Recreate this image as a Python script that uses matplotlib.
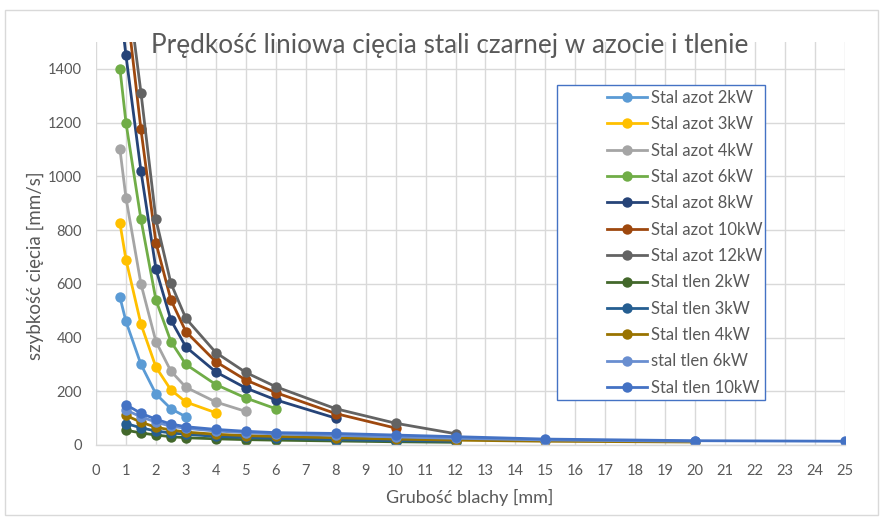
"""
Prędkość liniowa cięcia stali czarnej w azocie i tlenie - odtworzenie wykresu z Excela.
"""
from __future__ import annotations

import matplotlib

matplotlib.use("Agg")
import matplotlib.pyplot as plt
from matplotlib.patches import Rectangle

plt.rcParams["font.family"] = ["Lato", "DejaVu Sans"]

TITLE = "Prędkość liniowa cięcia stali czarnej w azocie i tlenie"
X_LABEL = "Grubość blachy [mm]"
Y_LABEL = "szybkość cięcia [mm/s]"

# --- azot (N2) ---
x_n2_2kw = [0.8, 1, 1.5, 2, 2.5, 3]
y_n2_2kw = [550, 460, 300, 190, 135, 105]
x_n2_3kw = [0.8, 1, 1.5, 2, 2.5, 3, 4]
y_n2_3kw = [825, 690, 450, 290, 205, 160, 120]
x_n2_4kw = [0.8, 1, 1.5, 2, 2.5, 3, 4, 5]
y_n2_4kw = [1100, 920, 600, 385, 275, 215, 160, 125]
x_n2_6kw = [0.8, 1, 1.5, 2, 2.5, 3, 4, 5, 6]
y_n2_6kw = [1400, 1200, 840, 540, 385, 300, 225, 175, 135]
x_n2_8kw = [0.8, 1, 1.5, 2, 2.5, 3, 4, 5, 6, 8]
y_n2_8kw = [1640, 1450, 1020, 655, 465, 365, 272, 212, 168, 100]
x_n2_10kw = [1, 1.5, 2, 2.5, 3, 4, 5, 6, 8, 10]
y_n2_10kw = [1660, 1175, 753, 540, 422, 310, 242, 195, 117, 63]
x_n2_12kw = [1, 1.5, 2, 2.5, 3, 4, 5, 6, 8, 10, 12]
y_n2_12kw = [1750, 1312, 840, 602, 471, 344, 270, 217, 135, 81, 42]

# --- tlen (O2) ---
x_o2_2kw = [1, 1.5, 2, 2.5, 3, 4, 5, 6, 8, 10, 12]
y_o2_2kw = [55, 45, 37, 31, 27, 23, 20, 18, 15, 12, 10]
x_o2_3kw = [1, 1.5, 2, 2.5, 3, 4, 5, 6, 8, 10, 12]
y_o2_3kw = [80, 64, 52, 45, 40, 32, 28, 25, 20, 16, 14]
x_o2_4kw = [1, 1.5, 2, 2.5, 3, 4, 5, 6, 8, 10, 12, 15, 20]
y_o2_4kw = [110, 85, 66, 56, 48, 40, 35, 32, 27, 22, 18, 14, 11]
x_o2_6kw = [1, 1.5, 2, 2.5, 3, 4, 5, 6, 8, 10, 12, 15, 20]
y_o2_6kw = [130, 105, 85, 70, 62, 52, 46, 41, 36, 30, 25, 19, 14]
x_o2_10kw = [1, 1.5, 2, 2.5, 3, 4, 5, 6, 8, 10, 12, 15, 20, 25]
y_o2_10kw = [150, 118, 96, 78, 68, 58, 51, 46, 43, 37, 31, 22, 16, 14]

SERIES = [
    ("Stal azot 2kW", x_n2_2kw, y_n2_2kw, "#5B9BD5"),
    ("Stal azot 3kW", x_n2_3kw, y_n2_3kw, "#FFC000"),
    ("Stal azot 4kW", x_n2_4kw, y_n2_4kw, "#A5A5A5"),
    ("Stal azot 6kW", x_n2_6kw, y_n2_6kw, "#70AD47"),
    ("Stal azot 8kW", x_n2_8kw, y_n2_8kw, "#264478"),
    ("Stal azot 10kW", x_n2_10kw, y_n2_10kw, "#9E480E"),
    ("Stal azot 12kW", x_n2_12kw, y_n2_12kw, "#636363"),
    ("Stal tlen 2kW", x_o2_2kw, y_o2_2kw, "#43682B"),
    ("Stal tlen 3kW", x_o2_3kw, y_o2_3kw, "#255E91"),
    ("Stal tlen 4kW", x_o2_4kw, y_o2_4kw, "#997300"),
    ("stal tlen 6kW", x_o2_6kw, y_o2_6kw, "#698ED0"),
    ("Stal tlen 10kW", x_o2_10kw, y_o2_10kw, "#4472C4"),
]

X_TICKS = list(range(0, 26))
Y_TICKS = list(range(0, 1401, 200))

TEXT_COLOR = "#595959"
GRID_COLOR = "#D9D9D9"


def main() -> None:
    W, H = 883, 518
    fig = plt.figure(figsize=(W / 100, H / 100), dpi=100)
    fig.patch.set_facecolor("white")

    # obszar wykresu (w pikselach: 96..845 x 42..445)
    ax = fig.add_axes([96 / W, 1 - 445 / H, (845 - 96) / W, (445 - 42) / H])

    for label, xs, ys, color in SERIES:
        ax.plot(
            xs,
            ys,
            color=color,
            linewidth=2.0,
            marker="o",
            markersize=7.5,
            markeredgewidth=0,
            label=label,
        )

    ax.set_xlim(0, 25)
    ax.set_ylim(0, 1500)
    ax.set_xticks(X_TICKS)
    ax.set_yticks(Y_TICKS)
    ax.tick_params(axis="both", length=0, labelsize=10.5, labelcolor=TEXT_COLOR)
    ax.tick_params(axis="x", pad=14)
    ax.tick_params(axis="y", pad=10)
    ax.grid(True, color=GRID_COLOR, linewidth=1.0)
    ax.set_axisbelow(True)
    for side in ("left", "right", "top"):
        ax.spines[side].set_visible(False)
    ax.spines["bottom"].set_color(GRID_COLOR)
    ax.spines["bottom"].set_linewidth(1.0)

    fig.text(470 / W, 1 - 497 / H, X_LABEL, ha="center", va="center",
             fontsize=13, color=TEXT_COLOR)
    fig.text(35 / W, 1 - 266 / H, Y_LABEL, ha="center", va="center",
             rotation=90, fontsize=13.5, color=TEXT_COLOR)
    fig.text(450 / W, 1 - 45 / H, TITLE, ha="center", va="center",
             fontsize=18.8, color=TEXT_COLOR, zorder=4)

    # ramka legendy
    box = Rectangle((557 / W, 1 - 400 / H), (765 - 557) / W, (400 - 85) / H,
                    transform=fig.transFigure, facecolor="white",
                    edgecolor="#4472C4", linewidth=1.0, zorder=5)
    fig.add_artist(box)
    fig.legend(
        loc="upper left",
        bbox_to_anchor=(607 / W, 1 - 90 / H),
        frameon=False,
        fontsize=12,
        labelcolor=TEXT_COLOR,
        handlelength=2.4,
        handletextpad=0.25,
        labelspacing=0.62,
        borderpad=0,
        borderaxespad=0,
    ).set_zorder(6)

    # cienka ramka wokół całego wykresu
    fig.add_artist(Rectangle((5 / W, 3 / H), (878 - 5) / W, (508 - 3) / H,
                             transform=fig.transFigure, facecolor="none",
                             edgecolor="#D9D9D9", linewidth=1.0))

    fig.savefig("out.png", dpi=100)
    plt.close(fig)


if __name__ == "__main__":
    main()
